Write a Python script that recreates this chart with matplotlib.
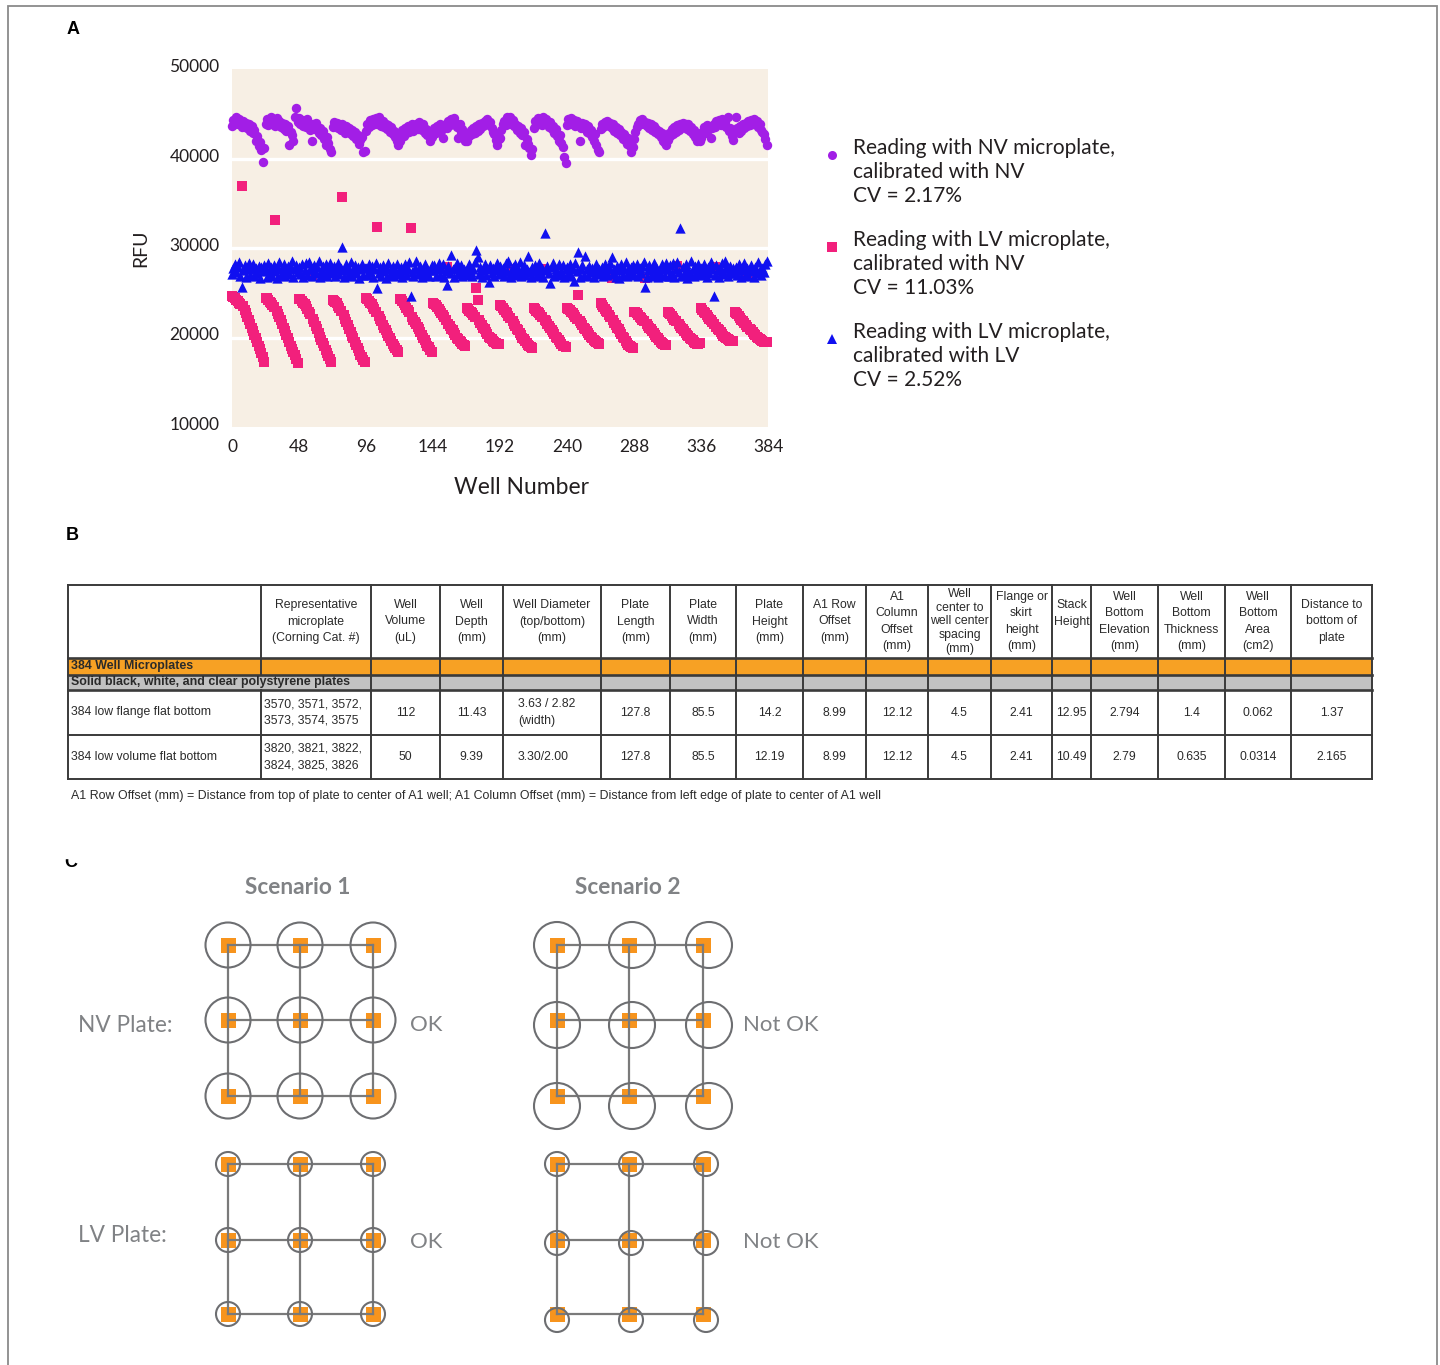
import numpy as np
import matplotlib
matplotlib.use("Agg")
import matplotlib.pyplot as plt
import matplotlib.transforms as mtransforms
from matplotlib.patches import Rectangle, Circle

plt.rcParams['font.family'] = ['Lato', 'DejaVu Sans']

# ---------------- Panel A data: RFU in thousands, one list per plate row (24 wells) ----------------
nv_nv_rows = [
    [43.6, 44.3, 43.9, 44.6, 43.8, 44.4, 44.1, 43.5, 44.2, 43.7, 44.0, 43.4, 43.9, 43.1, 43.6, 42.8, 43.2, 41.9, 42.5, 41.4, 41.8, 40.9, 39.6, 41.2],
    [43.8, 44.4, 43.7, 44.2, 44.6, 43.9, 44.3, 43.6, 44.5, 43.9, 44.2, 43.5, 44.0, 43.3, 43.8, 43.1, 43.6, 41.5, 43.0, 42.6, 42.0, 44.6, 45.6, 44.1],
    [44.5, 43.8, 44.3, 43.6, 44.1, 43.5, 44.4, 43.7, 43.2, 41.9, 43.9, 43.3, 44.0, 43.5, 42.8, 43.4, 42.6, 43.1, 42.2, 41.5, 42.4, 41.7, 41.1, 40.7],
    [43.5, 44.1, 43.6, 44.0, 43.4, 43.9, 43.2, 43.8, 43.5, 42.9, 43.6, 43.0, 43.4, 42.7, 43.2, 42.5, 43.0, 42.2, 42.6, 41.6, 42.1, 42.4, 40.7, 40.8],
    [43.1, 43.9, 43.5, 44.3, 43.7, 44.4, 43.9, 44.5, 43.8, 44.6, 44.1, 43.6, 44.2, 43.5, 43.9, 43.3, 43.7, 43.0, 43.5, 42.7, 43.1, 42.4, 41.9, 41.5],
    [41.9, 42.7, 43.2, 42.5, 43.4, 42.9, 43.6, 43.0, 43.5, 43.8, 43.1, 43.7, 43.9, 43.3, 44.1, 43.6, 43.2, 43.9, 42.9, 43.3, 42.6, 42.9, 41.9, 42.4],
    [42.7, 43.4, 42.9, 43.6, 43.2, 43.8, 43.1, 42.3, 43.5, 43.9, 43.4, 44.2, 43.7, 44.4, 43.9, 44.5, 44.0, 43.5, 42.3, 43.8, 43.0, 43.3, 42.6, 42.0],
    [41.9, 42.8, 42.5, 43.2, 42.7, 43.4, 42.9, 43.6, 43.1, 43.8, 43.3, 44.0, 43.6, 44.2, 43.9, 44.4, 43.7, 44.1, 43.4, 43.0, 42.7, 42.1, 41.5, 42.2],
    [42.3, 43.2, 43.8, 44.2, 43.7, 44.6, 44.1, 44.6, 43.9, 44.3, 43.6, 43.9, 43.2, 43.6, 42.9, 43.4, 42.6, 43.0, 41.5, 42.2, 41.6, 41.2, 40.4, 41.1],
    [43.4, 44.2, 43.8, 44.5, 43.9, 44.3, 43.7, 44.6, 44.0, 44.4, 43.8, 43.5, 44.1, 43.3, 43.6, 42.9, 43.3, 42.5, 42.0, 42.6, 41.7, 41.3, 40.2, 39.5],
    [43.7, 44.4, 43.9, 44.5, 44.0, 44.3, 43.6, 44.2, 43.8, 41.9, 43.4, 44.0, 43.5, 43.8, 43.0, 43.6, 42.8, 43.2, 42.4, 42.0, 42.7, 41.5, 40.9, 40.7],
    [43.3, 43.9, 43.5, 44.1, 43.7, 44.2, 43.6, 44.0, 43.4, 43.8, 43.1, 43.5, 42.8, 43.3, 42.6, 43.0, 42.2, 42.7, 41.9, 41.6, 42.3, 41.4, 40.7, 41.3],
    [42.2, 43.0, 43.5, 43.9, 44.3, 43.8, 44.4, 43.9, 44.1, 43.6, 44.0, 43.4, 43.8, 43.2, 43.6, 43.0, 43.3, 42.7, 43.1, 42.4, 42.8, 42.0, 41.7, 41.5],
    [42.1, 42.8, 42.5, 43.3, 42.7, 43.5, 43.0, 43.7, 43.2, 43.9, 43.4, 44.0, 43.6, 43.9, 43.3, 43.8, 43.1, 43.5, 42.7, 43.2, 42.4, 42.0, 42.6, 41.9],
    [42.3, 43.0, 43.5, 42.9, 43.7, 43.2, 43.6, 42.3, 43.4, 43.9, 43.5, 44.2, 43.8, 44.3, 43.7, 44.4, 43.9, 44.1, 43.5, 44.6, 43.1, 43.4, 42.5, 42.1],
    [43.1, 44.6, 43.4, 42.9, 43.6, 43.1, 43.8, 43.4, 44.0, 43.6, 44.2, 43.7, 44.3, 43.9, 44.4, 43.8, 44.2, 43.5, 43.9, 43.2, 43.0, 42.7, 42.2, 41.5],
]

lv_nv_rows = [
    [24.6, 24.5, 24.4, 24.2, 24.1, 23.9, 23.7, 36.9, 23.5, 23.1, 22.7, 22.3, 21.9, 21.5, 21.1, 20.7, 20.3, 19.9, 19.5, 19.1, 18.7, 18.3, 17.8, 17.3],
    [24.4, 24.4, 24.2, 24.0, 23.9, 23.6, 23.4, 33.1, 23.0, 22.6, 22.3, 21.9, 21.5, 21.1, 20.7, 20.3, 19.9, 19.5, 19.1, 18.7, 18.4, 18.0, 17.6, 17.2],
    [24.3, 24.3, 24.1, 23.9, 23.7, 23.5, 23.2, 22.9, 22.6, 27.0, 22.1, 21.7, 21.3, 20.9, 20.5, 20.1, 19.7, 19.4, 19.0, 18.6, 18.3, 17.9, 17.6, 17.3],
    [24.2, 24.1, 24.0, 23.8, 23.5, 23.3, 23.0, 35.7, 22.5, 22.1, 21.7, 21.4, 21.0, 20.6, 20.2, 19.9, 19.5, 19.2, 18.8, 18.5, 18.1, 17.8, 17.5, 17.3],
    [24.4, 24.3, 24.1, 23.9, 23.7, 23.4, 23.2, 22.9, 32.3, 22.4, 22.1, 21.8, 21.4, 21.1, 20.8, 20.5, 20.2, 19.9, 19.6, 19.3, 19.0, 18.8, 18.6, 18.4],
    [24.3, 24.3, 24.1, 23.8, 23.6, 23.3, 23.1, 22.8, 32.2, 22.3, 22.0, 21.7, 21.5, 21.2, 20.9, 20.6, 20.3, 20.0, 19.7, 19.4, 19.1, 18.9, 18.6, 18.4],
    [23.8, 23.7, 23.6, 23.4, 23.2, 23.0, 22.7, 22.5, 22.3, 22.0, 27.9, 21.5, 21.3, 21.0, 20.8, 20.5, 20.3, 20.0, 19.8, 19.6, 19.5, 19.3, 19.2, 19.1],
    [23.3, 23.2, 23.0, 22.8, 22.7, 22.5, 22.3, 25.5, 24.2, 21.9, 21.6, 21.4, 21.1, 20.9, 20.6, 20.4, 20.1, 19.9, 19.8, 19.6, 19.5, 19.4, 19.3, 19.3],
    [23.6, 23.5, 23.3, 23.1, 22.9, 22.7, 22.4, 22.2, 27.6, 21.8, 21.5, 21.3, 21.0, 20.8, 20.5, 20.3, 20.0, 19.8, 19.6, 19.4, 19.2, 19.0, 18.9, 18.8],
    [23.3, 23.2, 23.0, 22.9, 22.7, 22.5, 22.3, 27.7, 22.0, 21.8, 21.5, 21.3, 21.1, 20.8, 20.6, 20.4, 20.1, 19.9, 19.7, 19.5, 19.3, 19.1, 19.0, 18.9],
    [23.3, 23.2, 23.1, 22.9, 22.7, 22.5, 22.3, 22.1, 24.8, 21.8, 21.6, 21.4, 21.1, 20.9, 20.7, 20.5, 20.3, 20.1, 19.9, 19.7, 19.6, 19.5, 19.4, 19.3],
    [23.8, 23.6, 23.4, 23.2, 23.0, 22.8, 22.5, 22.3, 26.6, 21.9, 21.6, 21.4, 21.1, 20.9, 20.6, 20.4, 20.1, 19.9, 19.6, 19.4, 19.2, 19.0, 18.9, 18.8],
    [22.9, 22.8, 22.7, 22.5, 22.3, 22.2, 22.0, 21.8, 26.6, 21.5, 21.3, 21.1, 20.9, 20.7, 20.5, 20.3, 20.1, 19.9, 19.7, 19.5, 19.4, 19.3, 19.2, 19.2],
    [22.8, 22.7, 22.6, 22.4, 22.2, 22.0, 21.8, 28.0, 21.5, 21.3, 21.1, 20.9, 20.7, 20.5, 20.3, 20.2, 20.0, 19.8, 19.7, 19.5, 19.4, 19.3, 19.3, 19.4],
    [23.3, 23.1, 22.9, 22.7, 22.5, 22.3, 22.1, 21.9, 21.7, 21.5, 27.9, 21.2, 21.0, 20.8, 20.6, 20.4, 20.2, 20.1, 19.9, 19.8, 19.7, 19.6, 19.6, 19.6],
    [22.8, 22.7, 22.6, 22.4, 22.2, 22.0, 21.8, 21.6, 21.4, 21.2, 27.0, 21.0, 20.8, 20.6, 20.4, 20.3, 20.1, 19.9, 19.8, 19.7, 19.6, 19.5, 19.5, 19.5],
]

lv_lv_rows = [
    [27.1, 27.8, 28.2, 27.3, 27.9, 28.4, 26.9, 25.6, 27.5, 28.1, 26.8, 27.7, 28.3, 27.0, 27.6, 28.2, 26.9, 27.8, 27.2, 28.0, 26.7, 27.9, 27.4, 28.1],
    [27.6, 26.8, 28.3, 27.2, 27.9, 26.9, 28.1, 27.4, 26.7, 27.8, 28.4, 27.0, 27.7, 28.2, 26.9, 27.5, 28.0, 27.1, 27.8, 28.5, 26.8, 27.6, 28.1, 27.3],
    [27.9, 27.1, 28.2, 26.8, 27.5, 28.3, 27.0, 28.4, 27.7, 26.9, 27.6, 28.1, 27.2, 27.9, 28.6, 26.8, 27.4, 28.0, 27.1, 28.2, 26.9, 27.7, 28.3, 27.2],
    [27.3, 28.0, 26.9, 27.6, 28.3, 27.1, 27.8, 30.1, 26.8, 27.5, 28.2, 27.0, 27.7, 28.4, 26.9, 27.4, 28.1, 27.2, 27.9, 26.7, 27.6, 28.2, 27.0, 27.8],
    [27.8, 27.0, 28.2, 27.3, 28.0, 26.8, 27.6, 28.3, 25.5, 27.2, 27.9, 26.9, 28.1, 27.4, 26.7, 27.7, 28.3, 27.0, 27.6, 28.0, 26.9, 27.5, 28.2, 27.1],
    [27.2, 27.9, 26.8, 27.5, 28.2, 27.0, 27.7, 28.4, 24.6, 27.3, 26.9, 27.8, 28.5, 27.1, 27.6, 28.0, 26.8, 27.4, 28.2, 27.0, 27.7, 26.9, 27.5, 28.1],
    [27.5, 28.1, 26.9, 27.7, 28.3, 27.0, 27.6, 28.2, 26.8, 27.4, 25.9, 28.0, 27.2, 29.2, 27.6, 26.8, 27.9, 28.3, 27.1, 27.5, 28.1, 26.9, 27.7, 27.3],
    [27.0, 27.8, 28.2, 27.3, 26.9, 27.7, 28.4, 29.8, 29.0, 27.1, 27.9, 26.8, 27.5, 28.2, 27.0, 27.6, 26.2, 28.1, 27.2, 27.8, 26.9, 27.5, 28.3, 27.1],
    [28.0, 27.2, 27.8, 26.9, 28.3, 27.4, 28.5, 27.1, 26.8, 27.9, 27.3, 28.2, 27.0, 27.7, 28.4, 26.9, 27.5, 28.1, 27.0, 27.6, 29.1, 27.3, 26.8, 27.9],
    [27.4, 28.1, 26.9, 27.7, 28.3, 27.1, 27.8, 26.8, 31.7, 27.5, 28.0, 27.2, 26.1, 27.9, 28.3, 26.9, 27.6, 27.1, 28.2, 27.0, 27.4, 28.1, 26.8, 27.6],
    [27.9, 27.1, 28.2, 26.9, 27.6, 26.3, 28.3, 27.4, 29.5, 26.8, 27.7, 28.1, 27.0, 29.1, 27.6, 26.9, 28.0, 27.3, 27.8, 26.8, 27.5, 28.2, 27.1, 27.7],
    [27.2, 27.9, 26.9, 28.2, 27.4, 27.0, 27.8, 28.3, 29.0, 27.1, 27.6, 26.8, 28.0, 26.7, 27.5, 28.2, 27.0, 27.7, 28.4, 26.9, 27.6, 27.1, 27.9, 28.1],
    [27.0, 27.7, 28.2, 26.9, 27.8, 27.2, 28.0, 28.4, 25.6, 26.8, 27.5, 28.1, 26.9, 27.6, 28.3, 27.1, 27.9, 26.8, 27.4, 27.0, 28.2, 27.6, 26.9, 28.3],
    [27.6, 26.9, 28.1, 27.2, 28.3, 26.8, 27.7, 28.4, 27.3, 32.2, 26.9, 27.9, 27.1, 28.2, 26.7, 27.5, 27.0, 28.5, 27.6, 26.9, 28.0, 27.2, 28.2, 27.0],
    [27.8, 27.1, 28.2, 27.4, 26.8, 27.9, 27.2, 28.4, 27.6, 24.6, 27.0, 28.1, 27.5, 26.8, 27.7, 28.3, 27.1, 28.6, 27.8, 26.9, 27.4, 28.0, 27.2, 27.8],
    [27.2, 27.9, 27.0, 28.2, 27.6, 26.8, 27.5, 28.3, 27.1, 27.8, 26.9, 27.6, 28.1, 27.4, 26.8, 27.9, 27.2, 28.4, 27.5, 27.0, 27.8, 27.3, 28.2, 28.6],
]

series_labels = [
    "Reading with NV microplate,\ncalibrated with NV\nCV = 2.17%",
    "Reading with LV microplate,\ncalibrated with NV\nCV = 11.03%",
    "Reading with LV microplate,\ncalibrated with LV\nCV = 2.52%",
]
x_ticks = [0, 48, 96, 144, 192, 240, 288, 336, 384]
y_ticks = [10000, 20000, 30000, 40000, 50000]

# ---------------- Panel B data ----------------
header = ["", "Representative\nmicroplate\n(Corning Cat. #)", "Well\nVolume\n(uL)", "Well\nDepth\n(mm)",
          "Well Diameter\n(top/bottom)\n(mm)", "Plate\nLength\n(mm)", "Plate\nWidth\n(mm)",
          "Plate\nHeight\n(mm)", "A1 Row\nOffset\n(mm)", "A1\nColumn\nOffset\n(mm)",
          "Well\ncenter to\nwell center\nspacing\n(mm)", "Flange or\nskirt\nheight\n(mm)",
          "Stack\nHeight\n ", "Well\nBottom\nElevation\n(mm)", "Well\nBottom\nThickness\n(mm)",
          "Well\nBottom\nArea\n(cm2)", "Distance to\nbottom of\nplate"]
row_low_flange = ["384 low flange flat bottom", "3570, 3571, 3572,\n3573, 3574, 3575", "112", "11.43",
                  "3.63 / 2.82\n(width)", "127.8", "85.5", "14.2", "8.99", "12.12", "4.5", "2.41",
                  "12.95", "2.794", "1.4", "0.062", "1.37"]
row_low_volume = ["384 low volume flat bottom", "3820, 3821, 3822,\n3824, 3825, 3826", "50", "9.39",
                  "3.30/2.00", "127.8", "85.5", "12.19", "8.99", "12.12", "4.5", "2.41",
                  "10.49", "2.79", "0.635", "0.0314", "2.165"]
section_title = "384 Well Microplates"
subsection_title = "Solid black, white, and clear polystyrene plates"
footnote = ("A1 Row Offset (mm) = Distance from top of plate to center of A1 well; "
            "A1 Column Offset (mm) = Distance from left edge of plate to center of A1 well")

# ---------------- figure ----------------
W, H = 1440, 1365
fig = plt.figure(figsize=(W / 100, H / 100), dpi=100)
canvas = fig.add_axes([0, 0, 1, 1])
canvas.set_xlim(0, W)
canvas.set_ylim(H, 0)
canvas.axis('off')


def rect(x0, y0, x1, y1):
    return [x0 / W, 1 - y1 / H, (x1 - x0) / W, (y1 - y0) / H]


# outer frame
canvas.plot([8, 8, 1437, 1437], [H, 6, 6, H], color='#8a8a8a', lw=1.3, solid_joinstyle='miter')

# panel labels
canvas.text(73, 29, "A", fontsize=13, fontweight='bold', ha='center', va='center', family='Liberation Sans')
canvas.text(72, 536, "B", fontsize=13, fontweight='bold', ha='center', va='center', family='Liberation Sans')
canvas.text(71, 871, "C", fontsize=13, fontweight='bold', ha='center', va='bottom', family='Liberation Sans')
canvas.add_patch(Rectangle((55, 835), 40, 23, color='white', zorder=5))

# ---------------- Panel A ----------------
wells = np.arange(384)
nv_nv = np.concatenate(nv_nv_rows) * 1000
lv_nv = np.concatenate(lv_nv_rows) * 1000
lv_lv = np.concatenate(lv_lv_rows) * 1000

ax = fig.add_axes(rect(232, 69, 768, 427))
ax.set_facecolor('#F7EFE4')
for v in (20000, 30000, 40000):
    ax.axhline(v, color='white', lw=2.4, zorder=1)
ax.scatter(wells, lv_nv, marker='s', s=60, color='#F2207C', lw=0, zorder=2, clip_on=False)
ax.scatter(wells, lv_lv, marker='^', s=55, color='#1010F0', lw=0, zorder=3, clip_on=False)
ax.scatter(wells, nv_nv, marker='o', s=46, color='#A21EE6', lw=0, zorder=4, clip_on=False)
ax.set_xlim(0, 384)
ax.set_ylim(10000, 50000)
ax.set_xticks(x_ticks)
ax.set_yticks(y_ticks)
ax.tick_params(length=0, labelsize=12.5, labelcolor='#231F20', pad=9)
for s in ax.spines.values():
    s.set_visible(False)
# y labels sit a few pixels above their gridlines in the original
lift = mtransforms.ScaledTranslation(0, 3.5 / 100, fig.dpi_scale_trans)
for lab in ax.get_yticklabels():
    lab.set_transform(lab.get_transform() + lift)

canvas.text(141, 248, "RFU", rotation=90, fontsize=14, ha='center', va='center', color='#231F20')
canvas.text(522, 487, "Well Number", fontsize=16.5, ha='center', va='center', color='#231F20')

legend_markers = [('o', '#A21EE6'), ('s', '#F2207C'), ('^', '#1010F0')]
legend_y = [172, 264, 356]
for (m, c), y, lab in zip(legend_markers, legend_y, series_labels):
    canvas.plot(832, y - 17, marker=m, color=c, ms=6.5, mew=0, ls='none')
    canvas.text(853, y, lab, fontsize=15, ha='left', va='center', linespacing=1.25, color='#231F20')

# ---------------- Panel B (table) ----------------
col_x = [68, 261, 371, 440, 503, 601, 670, 736, 803, 866, 928, 991, 1052, 1091, 1158, 1225, 1291, 1372]
row_y = [585, 658, 675, 690, 735, 779]
line_c = '#3a3a3a'
tfont = dict(family=['Liberation Sans', 'DejaVu Sans'], color='#2a2a2a')

canvas.add_patch(Rectangle((col_x[0], row_y[1]), col_x[-1] - col_x[0], row_y[2] - row_y[1],
                           color='#F7A124', lw=0))
canvas.add_patch(Rectangle((col_x[0], row_y[2]), col_x[-1] - col_x[0], row_y[3] - row_y[2],
                           color='#C2C2C2', lw=0))
for i, y in enumerate(row_y):
    canvas.plot([col_x[0], col_x[-1]], [y, y], color=line_c, lw=1.9 if i in (1, 2, 3) else 1.4)
for i, x in enumerate(col_x):
    if i == 1:
        canvas.plot([x, x], [row_y[0], row_y[2]], color=line_c, lw=1.4)
        canvas.plot([x, x], [row_y[3], row_y[-1]], color=line_c, lw=1.4)
    else:
        canvas.plot([x, x], [row_y[0], row_y[-1]], color=line_c, lw=1.4)

for i, txt in enumerate(header):
    cx = (col_x[i] + col_x[i + 1]) / 2
    ls = 1.18 if txt.count('\n') >= 4 else 1.5
    canvas.text(cx, 621.5, txt, fontsize=8.8, ha='center', va='center', linespacing=ls, **tfont)

canvas.text(71, 666.5, section_title, fontsize=8.9, fontweight='bold', ha='left', va='center', **tfont)
canvas.text(71, 682.5, subsection_title, fontsize=8.9, fontweight='bold', ha='left', va='center', **tfont)

for yc, row in ((712.5, row_low_flange), (757, row_low_volume)):
    for i, txt in enumerate(row):
        if i in (0, 1):
            canvas.text(col_x[i] + 3, yc, txt, fontsize=8.8, ha='left', va='center', linespacing=1.55, **tfont)
        elif i == 4:
            canvas.text(col_x[i] + 15, yc, txt, fontsize=8.8, ha='left', va='center', linespacing=1.55, **tfont)
        else:
            cx = (col_x[i] + col_x[i + 1]) / 2
            canvas.text(cx, yc, txt, fontsize=8.8, ha='center', va='center', **tfont)

canvas.text(71, 796, footnote, fontsize=8.9, ha='left', va='center', **tfont)

# ---------------- Panel C (diagrams) ----------------
grey_txt = '#808285'
orange = '#F7941D'
edge = '#6D6E71'
canvas.text(298, 888, "Scenario 1", fontsize=16.3, fontweight='bold', ha='center', va='center', color=grey_txt)
canvas.text(628, 888, "Scenario 2", fontsize=16.3, fontweight='bold', ha='center', va='center', color=grey_txt)
canvas.text(78, 1025, "NV Plate:", fontsize=16.3, ha='left', va='center', color=grey_txt)
canvas.text(78, 1236, "LV Plate:", fontsize=16.3, ha='left', va='center', color=grey_txt)
canvas.text(410, 1025, "OK", fontsize=16, ha='left', va='center', color=grey_txt)
canvas.text(410, 1242, "OK", fontsize=16, ha='left', va='center', color=grey_txt)
canvas.text(743, 1025, "Not OK", fontsize=16, ha='left', va='center', color=grey_txt)
canvas.text(743, 1242, "Not OK", fontsize=16, ha='left', va='center', color=grey_txt)


def plate(gx, gy, cx, cy, r, sq=15):
    for x in gx:
        for y in gy:
            canvas.add_patch(Rectangle((x - sq / 2, y - sq / 2), sq, sq, color=orange, lw=0, zorder=2))
    for y in gy:
        canvas.plot([gx[0], gx[-1]], [y, y], color='#7a7a7a', lw=1.6, zorder=3)
    for x in gx:
        canvas.plot([x, x], [gy[0], gy[-1]], color='#7a7a7a', lw=1.6, zorder=3)
    for x in cx:
        for y in cy:
            canvas.add_patch(Circle((x, y), r, fill=False, ec=edge, lw=1.5, zorder=4))


plate([228, 300, 373], [945, 1020, 1096], [228, 300, 373], [945, 1020, 1096], 22.5)
plate([557, 629, 703], [945, 1020, 1096], [557, 632, 709], [945, 1025, 1106], 23)
plate([228, 300, 373], [1164, 1240, 1314], [228, 300, 373], [1164, 1240, 1314], 12)
plate([557, 629, 703], [1164, 1240, 1314], [557, 631, 706], [1164, 1243, 1320], 12)

fig.savefig("out.png", dpi=100)
